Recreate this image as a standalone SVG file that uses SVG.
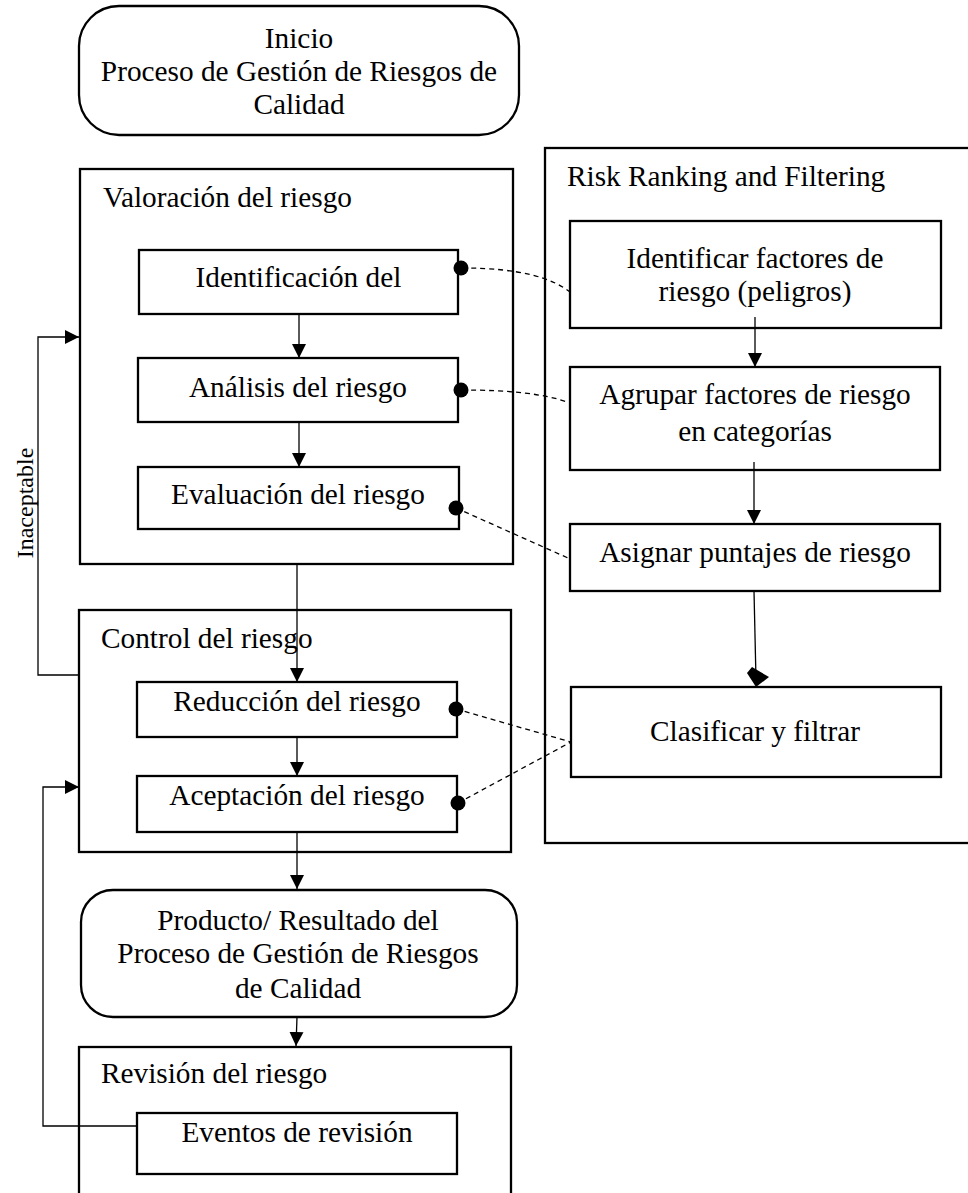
<svg xmlns="http://www.w3.org/2000/svg" width="968" height="1193" viewBox="0 0 968 1193">
<style>
  .box { fill: #fff; stroke: #000; stroke-width: 2.3; }
  .t { font-family: "Liberation Serif", "Times New Roman", serif; font-size: 29.3px; fill: #000; }
  .c { text-anchor: middle; }
  .ln { fill: none; stroke: #000; stroke-width: 1.3; }
  .dash { fill: none; stroke: #000; stroke-width: 1.3; stroke-dasharray: 5 4; }
  .dot { fill: #000; }
</style>
<defs>
  <marker id="ah" markerUnits="userSpaceOnUse" markerWidth="16" markerHeight="16" viewBox="0 0 16 16" refX="14" refY="8" orient="auto">
    <path d="M0,1 L14,8 L0,15 z" fill="#000"/>
  </marker>
</defs>
<rect width="968" height="1193" fill="#fff"/>

<g id="rrf">
  <rect class="box" x="545" y="148" width="440" height="695"/>
  <text class="t" x="567" y="186">Risk Ranking and Filtering</text>
</g>
<g id="valoracion">
  <rect class="box" x="80" y="169" width="433" height="395"/>
  <text class="t" x="103" y="207">Valoración del riesgo</text>
</g>
<g id="control">
  <rect class="box" x="79" y="610" width="432" height="242"/>
  <text class="t" x="101" y="648">Control del riesgo</text>
</g>
<g id="revision">
  <rect class="box" x="79" y="1047" width="432" height="200"/>
  <text class="t" x="101" y="1083">Revisión del riesgo</text>
</g>

<g id="inicio">
  <rect class="box" x="79" y="6" width="440" height="129" rx="40" ry="40"/>
  <text class="t c" x="299" y="48">Inicio</text>
  <text class="t c" x="299" y="81">Proceso de Gestión de Riesgos de</text>
  <text class="t c" x="299" y="114">Calidad</text>
</g>
<g id="identificacion">
  <rect class="box" x="139" y="250" width="319" height="64"/>
  <text class="t c" x="298.5" y="287">Identificación del</text>
</g>
<g id="analisis">
  <rect class="box" x="138" y="358" width="320" height="64"/>
  <text class="t c" x="298" y="397">Análisis del riesgo</text>
</g>
<g id="evaluacion">
  <rect class="box" x="138" y="467" width="321" height="62"/>
  <text class="t c" x="298" y="504">Evaluación del riesgo</text>
</g>
<g id="reduccion">
  <rect class="box" x="137" y="682" width="320" height="55"/>
  <text class="t c" x="297" y="711">Reducción del riesgo</text>
</g>
<g id="aceptacion">
  <rect class="box" x="137" y="776" width="320" height="56"/>
  <text class="t c" x="297" y="805">Aceptación del riesgo</text>
</g>
<g id="producto">
  <rect class="box" x="81" y="890" width="436" height="127" rx="32" ry="32"/>
  <text class="t c" x="298" y="930">Producto/ Resultado del</text>
  <text class="t c" x="298" y="963">Proceso de Gestión de Riesgos</text>
  <text class="t c" x="298" y="998">de Calidad</text>
</g>
<g id="eventos">
  <rect class="box" x="137" y="1113" width="320" height="61"/>
  <text class="t c" x="297" y="1142">Eventos de revisión</text>
</g>
<g id="identificar">
  <rect class="box" x="570" y="221" width="371" height="107"/>
  <text class="t c" x="755" y="268">Identificar factores de</text>
  <text class="t c" x="755" y="301">riesgo (peligros)</text>
</g>
<g id="agrupar">
  <rect class="box" x="570" y="367" width="370" height="103"/>
  <text class="t c" x="755" y="404">Agrupar factores de riesgo</text>
  <text class="t c" x="755" y="441">en categorías</text>
</g>
<g id="asignar">
  <rect class="box" x="570" y="524" width="370" height="67"/>
  <text class="t c" x="755" y="562">Asignar puntajes de riesgo</text>
</g>
<g id="clasificar">
  <rect class="box" x="571" y="687" width="370" height="90"/>
  <text class="t c" x="755" y="741">Clasificar y filtrar</text>
</g>

<g id="inaceptable-label">
  <text class="t c" style="font-size:24px" transform="translate(33,503) rotate(-90)">Inaceptable</text>
</g>

<g id="connectors">
  <path class="ln" d="M299,314 L299,358" marker-end="url(#ah)"/>
  <path class="ln" d="M299,422 L299,467" marker-end="url(#ah)"/>
  <path class="ln" d="M297,564 L297,682" marker-end="url(#ah)"/>
  <path class="ln" d="M297,737 L297,776" marker-end="url(#ah)"/>
  <path class="ln" d="M297,832 L297,889" marker-end="url(#ah)"/>
  <path class="ln" d="M297,1017 L296,1046" marker-end="url(#ah)"/>
  <path class="ln" d="M79,675 L38,675 L38,337 L79,337" marker-end="url(#ah)"/>
  <path class="ln" d="M137,1126 L43,1126 L43,787 L79,787" marker-end="url(#ah)"/>
  <path class="ln" d="M755,317 L755,367" marker-end="url(#ah)"/>
  <path class="ln" d="M754,462 L754,524" marker-end="url(#ah)"/>
  <path class="ln" d="M754,591 L756,680"/>
  <polygon points="752,667 769,677 756,687 747,673" fill="#000"/>
  <path class="dash" d="M462,268 C520,268 552,278 570,292"/>
  <path class="dash" d="M462,390 C510,390 545,394 567,402"/>
  <path class="dash" d="M456,508 L568,558"/>
  <path class="dash" d="M456,709 L571,742"/>
  <path class="dash" d="M458,803 L571,742"/>
  <circle class="dot" cx="461" cy="268" r="7.5"/>
  <circle class="dot" cx="461" cy="390" r="7.5"/>
  <circle class="dot" cx="456" cy="508" r="7.5"/>
  <circle class="dot" cx="456" cy="709" r="7.5"/>
  <circle class="dot" cx="458" cy="803" r="7.5"/>
</g>
</svg>
